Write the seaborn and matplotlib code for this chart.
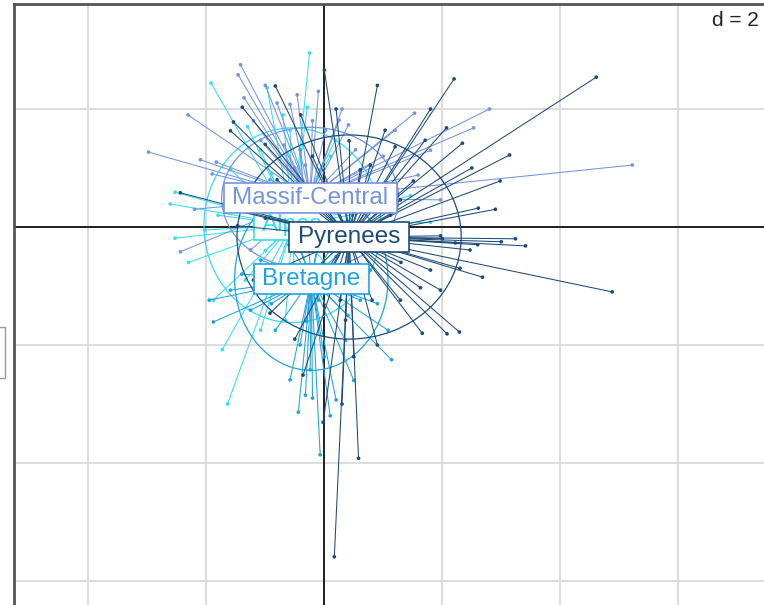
import numpy as np
import pandas as pd
import matplotlib
matplotlib.use("Agg")
import matplotlib.pyplot as plt
from matplotlib.collections import LineCollection
from matplotlib.patches import Ellipse, Rectangle
import seaborn as sns

# ---- groups -------------------------------------------------------------
groups = ["Alpes", "Bretagne", "Massif-Central", "Pyrenees"]
colors = ["#35DFEE", "#1EA3E0", "#7494DE", "#1C4B78"]

# group gravity centres (factorial plane, axes 1 x 2)
center_x = [-0.54, -0.22, -0.24, 0.42]
center_y = [0.03, -0.88, 0.49, -0.17]

# inertia ellipses (full width / height, degrees)
ell_w = [3.00, 2.60, 3.00, 3.80]
ell_h = [3.30, 3.10, 2.40, 3.46]
ell_angle = [0.0, 0.0, 0.0, 0.0]

# ---- individual scores ----------------------------------------------------
alpes_x = [-0.25, -1.92, -0.97, -2.53, -2.61, -2.53, -1.73, -1.64, 1.46, 1.80,
           -0.29, 0.19, -1.08, -1.59, -2.02, -1.34, -1.08, 0.27, 0.78, 0.69,
           -0.07, -1.25, -0.66, -1.88, -0.58, 0.44,
           -0.90, -1.50, -0.20, 0.30, -1.00, -0.50, -1.80, 0.10, -0.70, -1.30,
           1.00, -2.30]
alpes_y = [2.95, 2.44, 2.36, 0.59, 0.39, -0.19, -2.08, -3.00, 0.53, 0.08,
           2.03, 1.47, 1.31, 0.97, -0.05, -0.90, -1.75, -0.90, -0.39, 0.54,
           0.97, 0.46, -1.58, -1.24, 1.64, 0.12,
           0.90, 0.40, 0.60, -0.20, -0.40, -1.00, 0.20, 1.20, 1.90, 1.70,
           0.30, -0.60]

bretagne_x = [-0.07, -0.44, -0.41, 0.20, 1.08, 1.14, -1.95, -1.88, -1.59, -0.75,
              0.10, 0.47, 0.61, 0.36, -1.08, -0.83, -0.24, -0.58, -1.25, 0.78,
              -0.07, -0.41, -0.10, -0.32,
              -0.60, 0.20, -0.90, 0.40, -0.30, 0.00, -0.50, 0.90, -1.40, 0.10,
              -0.20, 0.50]
bretagne_y = [-3.86, -3.14, -2.00, -2.93, -1.75, -2.25, -1.24, -1.61, -1.07, 0.46,
              0.63, 0.20, -1.24, -1.92, -0.56, -1.75, -2.42, -2.59, -1.41, -0.73,
              -0.05, 1.31, -1.24, -2.85,
              -0.30, -0.50, -1.30, -1.50, -1.60, -2.20, -0.10, -1.30, -0.80, -3.20,
              -2.90, -2.60]

massif_x = [5.22, 2.80, 2.53, -2.98, -2.31, -1.42, -1.46, -1.36, -0.58, -0.46,
            -2.44, -2.10, -1.83, 0.25, 1.20, 1.53, 1.59, 1.97, -1.25, -0.58,
            0.95, -0.68, 0.02, 0.41, -1.08, -0.32, -1.17, 0.10, 0.78, -1.59,
            0.53, -0.92,
            -1.00, -0.80, -0.10, 0.30, 1.00, -1.90, -0.50, 0.60, -1.20, 1.80,
            -0.20, -2.20]
massif_y = [1.05, 2.00, 1.68, 1.27, 1.90, 2.75, 2.58, 2.19, 2.08, 2.24,
            -0.42, 1.14, 1.10, 1.81, 1.64, 1.93, 0.88, 0.46, -0.39, -0.14,
            0.29, 1.39, 1.64, 1.73, 1.47, 1.05, 0.12, -0.39, 1.05, 0.63,
            1.31, 0.80,
            2.40, 2.10, 2.30, 2.00, 1.20, 0.90, 1.00, 0.60, 1.80, 1.30,
            1.80, 0.30]

pyrenees_x = [4.61, 2.20, 2.07, 2.34, 3.14, 2.98, 1.51, 2.61, 3.24, 3.41,
              2.68, 4.88, 1.63, 1.66, 2.08, 2.29, 0.58, 0.17, -0.02, -0.36,
              0.00, -1.39, -1.59, -1.54, -2.44, -0.83, 0.42, 1.71, 1.29, 0.81,
              0.36, -1.47, -0.92, 0.69, 0.95, 0.78, 0.61, 1.20, 2.22, 1.97,
              2.47, 1.03, 1.29, 1.12, 0.27, -0.10, 1.97, 1.80,
              0.20, -0.40, -0.20, 0.90, 1.80, 2.50, 2.90, 2.00, 2.60, 3.00,
              1.30, 2.30, 0.50, 0.30, -0.50, -1.20, -0.80, -1.00, 0.00, 0.90,
              -1.30, -1.00, -1.60]
pyrenees_y = [2.54, 2.51, 1.68, 1.42, 1.22, 0.78, 0.78, 0.32, -0.20, -0.32,
              -0.85, -1.10, -1.03, -1.80, -1.81, -1.78, -3.92, -5.59, -3.31, -2.51,
              2.66, 2.03, 1.63, 1.78, 0.58, 2.39, 1.46, 1.47, -1.24, -1.24,
              -1.58, 0.02, -1.46, -0.39, -0.22, 1.05, 0.97, 1.36, -0.27, -0.15,
              -0.39, 1.64, 0.46, 0.20, -1.24, -1.07, -1.07, -0.73,
              2.00, 1.90, 1.20, 2.40, 2.00, 1.00, 0.30, -0.20, -0.30, -0.25,
              -0.60, -0.70, -2.20, -3.00, -1.90, -0.90, 0.80, 1.40, -0.80, -2.00,
              0.25, 0.15, 0.30]

scores = pd.concat([
    pd.DataFrame({"x": alpes_x, "y": alpes_y, "group": "Alpes"}),
    pd.DataFrame({"x": bretagne_x, "y": bretagne_y, "group": "Bretagne"}),
    pd.DataFrame({"x": massif_x, "y": massif_y, "group": "Massif-Central"}),
    pd.DataFrame({"x": pyrenees_x, "y": pyrenees_y, "group": "Pyrenees"}),
], ignore_index=True)

grid_step = 2

# ---- figure -----------------------------------------------------------------
sns.set_style("white")
plt.rcParams["font.family"] = ["Liberation Sans", "DejaVu Sans"]

W, H = 764, 605
fig = plt.figure(figsize=(W / 100, H / 100), dpi=100)

# pixel geometry of the panel: origin and scale
px_unit = 59.0
ox, oy = 324.3, 227.0
left_px, right_px, top_px, bottom_px = 14, 768, 4, 615
ax = fig.add_axes([left_px / W, (H - bottom_px) / H,
                   (right_px - left_px) / W, (bottom_px - top_px) / H])
ax.set_xlim((left_px - ox) / px_unit, (right_px - ox) / px_unit)
ax.set_ylim((oy - bottom_px) / px_unit, (oy - top_px) / px_unit)

# grid
for gx in np.arange(-4, 8, grid_step):
    ax.axvline(gx, color="#DDDDDD", lw=1.5, zorder=0)
for gy in np.arange(-6, 4, grid_step):
    ax.axhline(gy, color="#DDDDDD", lw=1.5, zorder=0)
ax.axhline(0, color="black", lw=1.2, zorder=1)
ax.axvline(0, color="black", lw=1.2, zorder=1)
ax.set_xticks([])
ax.set_yticks([])
for sp in ax.spines.values():
    sp.set_color("#555555")
    sp.set_linewidth(2.0)

# stars, points and ellipses, group by group
for i, g in enumerate(groups):
    sub = scores[scores["group"] == g]
    cx, cy = center_x[i], center_y[i]
    segs = [[(cx, cy), (px, py)] for px, py in zip(sub["x"], sub["y"])]
    ax.add_collection(LineCollection(segs, colors=colors[i], linewidths=0.75,
                                     zorder=2 + i))
    sns.scatterplot(data=sub, x="x", y="y", color=colors[i], s=7,
                    edgecolor="none", legend=False, ax=ax, zorder=2 + i)
    ax.add_patch(Ellipse((cx, cy), ell_w[i], ell_h[i], angle=ell_angle[i],
                         fill=False, edgecolor=colors[i], lw=0.9, zorder=2 + i))

ax.set_xlabel("")
ax.set_ylabel("")

# group labels in framed white boxes; the Alpes label sits under the
# Pyrenees star
label_z = [4.6, 20, 22, 24]
fig.canvas.draw()
renderer = fig.canvas.get_renderer()
for i, g in enumerate(groups):
    t = ax.text(center_x[i], center_y[i], g, color=colors[i], fontsize=17.5,
                ha="center", va="center", zorder=label_z[i] + 0.1)
    bb = t.get_window_extent(renderer)
    xc = (bb.x0 + bb.x1) / 2
    yc = (bb.y0 + bb.y1) / 2
    bw = bb.width + 17
    bh = 30
    rect = Rectangle(((xc - bw / 2) / W, (yc - bh / 2) / H), bw / W, bh / H,
                     transform=fig.transFigure, facecolor="white",
                     edgecolor=colors[i], lw=1.2, zorder=label_z[i])
    ax.add_artist(rect)
    rect.set_transform(fig.transFigure)

# scale legend
ax.text((759 - left_px) / (right_px - left_px), (bottom_px - 11) / (bottom_px - top_px),
        "d = 2", transform=ax.transAxes, ha="right", va="top",
        fontsize=15, color="#222222", zorder=30,
        bbox=dict(facecolor="white", edgecolor="none", pad=1))

# neighbouring panel edge at the far left
fig.add_artist(Rectangle((-20 / W, (H - 378) / H), 25 / W, 51 / H,
                         transform=fig.transFigure, facecolor="white",
                         edgecolor="#9A9A9A", lw=1.0))

fig.savefig("out.png", dpi=100)
